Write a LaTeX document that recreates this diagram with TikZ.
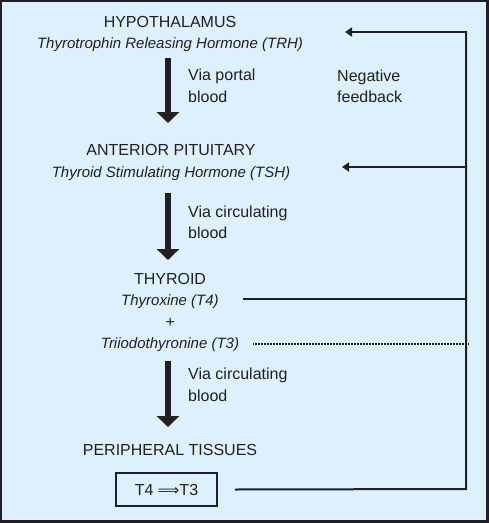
\documentclass[tikz,border=0pt]{standalone}
\usepackage{fontspec}
\setmainfont{Liberation Sans}
\newfontfamily\symfnt{DejaVu Sans}
\usetikzlibrary{arrows.meta}
\definecolor{bgblue}{HTML}{DCF0FD}
\definecolor{ink}{HTML}{231F20}
\begin{document}
\begin{tikzpicture}[x=1pt,y=-1pt,
  title/.style={anchor=base,font=\fontsize{16}{19}\selectfont,text=ink,inner sep=0pt},
  hormone/.style={anchor=base,font=\fontsize{15}{18}\selectfont\itshape,text=ink,inner sep=0pt},
  lbl/.style={anchor=base west,font=\fontsize{16}{19}\selectfont,text=ink,inner sep=0pt,align=left},
  bigarrow/.style={draw=ink,line width=5.5pt,-{Triangle[length=11pt,width=22pt]}},
  fb/.style={draw=ink,line width=2pt},
  fbarrow/.style={draw=ink,line width=2pt,-{Triangle[length=7pt,width=9pt]}}]
\useasboundingbox (0,0) rectangle (489,523);
\fill[ink] (0,0) rectangle (489,523);
\fill[bgblue] (2,2) rectangle (486,520);
% texts
\node[title] (hyp) at (170,27) {HYPOTHALAMUS};
\node[hormone] (trh) at (170,48) {Thyrotrophin Releasing Hormone (TRH)};
\node[title] (ant) at (171,155) {ANTERIOR PITUITARY};
\node[hormone] (tsh) at (171,177) {Thyroid Stimulating Hormone (TSH)};
\node[title] (thy) at (170,284) {THYROID};
\node[hormone] (t4) at (170,305) {Thyroxine (T4)};
\node[hormone,font=\fontsize{16}{19}\selectfont\itshape] (plus) at (170,327) {+};
\node[hormone] (t3) at (170,348) {Triiodothyronine (T3)};
\node[title] (per) at (170,455) {PERIPHERAL TISSUES};
\node[draw=ink,line width=2pt,minimum width=101pt,minimum height=33pt,inner sep=0pt,
  font=\fontsize{16}{19}\selectfont,text=ink] (conv) at (166.5,489.5) {T4 {\symfnt\fontsize{15}{18}\selectfont ⟹}T3};
\node[lbl] (v1) at (188,80) {Via portal};
\node[lbl] (v1b) at (188,102) {blood};
\node[lbl] (neg) at (337,81) {Negative};
\node[lbl] (negb) at (337,102) {feedback};
\node[lbl] (v2) at (188,217) {Via circulating};
\node[lbl] (v2b) at (188,238) {blood};
\node[lbl] (v3) at (188,379) {Via circulating};
\node[lbl] (v3b) at (188,401) {blood};
% main arrows
\coordinate (a1s) at (168,58); \coordinate (a1e) at (168,123);
\coordinate (a2s) at (168,193); \coordinate (a2e) at (168,260);
\coordinate (a3s) at (168,361); \coordinate (a3e) at (168,427);
\draw[bigarrow] (a1s) -- (a1e);
\draw[bigarrow] (a2s) -- (a2e);
\draw[bigarrow] (a3s) -- (a3e);
% feedback
\coordinate (fbtop) at (466,32);
\coordinate (fbbot) at (466,489);
\coordinate (tip1) at (345,32);
\coordinate (fbmid) at (466,167);
\coordinate (tip2) at (342,167);
\coordinate (t4r) at (466,299);
\coordinate (t4l) at (243,299);
\coordinate (t3l) at (253,344);
\coordinate (t3r) at (468,344);
\draw[fb,line cap=butt] (conv.east) ++(17,0) coordinate (cstart) -- (fbbot) -- (fbtop) -- ++(-1,0);
\draw[fbarrow] (fbtop) -- (tip1);
\draw[fbarrow] (fbmid) -- (tip2);
\draw[fb] (t4l) -- (t4r);
\draw[draw=ink,line width=1.3pt,dash pattern=on 1pt off 0.5pt] (t3l) -- (t3r);
\end{tikzpicture}
\end{document}
